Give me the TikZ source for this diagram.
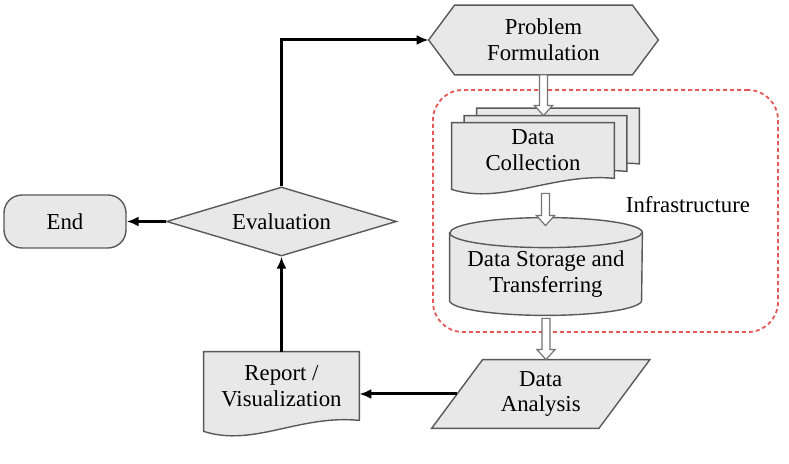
\documentclass[tikz,border=0pt]{standalone}
\usepackage{fontspec}
\setmainfont{Liberation Serif}
\newfontfamily\figfont{Liberation Serif}
\usetikzlibrary{arrows.meta,shapes.geometric,calc}
\definecolor{shapefill}{gray}{0.91}
\definecolor{shapeline}{gray}{0.35}
\definecolor{arrowline}{gray}{0.45}
\definecolor{infrared}{RGB}{228,88,88}
\pgfdeclarelayer{background}
\pgfsetlayers{background,main}

\begin{document}
\begin{tikzpicture}[x=0.5pt,y=-0.5pt,
	font=\figfont\fontsize{11.4}{13}\selectfont,
	txt/.style={align=center, inner sep=0pt},
	shapepen/.style={draw=shapeline, fill=shapefill, line width=0.7pt},
	terminal/.style={shapepen, rounded corners=9pt, minimum width=61pt, minimum height=26.5pt},
	decision/.style={shapepen, diamond, aspect=3.3, minimum width=115pt, minimum height=34.5pt, inner sep=0pt},
	infrabox/.style={draw=infrared, dashed, dash pattern=on 2pt off 1.5pt, line width=0.9pt, rounded corners=15pt},
	flow/.style={line width=1.5pt, -{Latex[length=6pt,width=5pt]}},
	hollow/.style={draw=arrowline, fill=white, line width=0.6pt, to path={
		($(\tikztostart)+(-2pt,0)$) -- ($(\tikztotarget)+(-2pt,5pt)$) -- ($(\tikztotarget)+(-4.5pt,5pt)$) -- (\tikztotarget)
		-- ($(\tikztotarget)+(4.5pt,5pt)$) -- ($(\tikztotarget)+(2pt,5pt)$) -- ($(\tikztostart)+(2pt,0)$) -- cycle}}]
	\useasboundingbox (0,0) rectangle (789,464);

	% nodes
	\node[txt, minimum width=114.5pt, minimum height=34.5pt] (pf) at (543.5,40) {Problem\\Formulation};
	\node[infrabox, minimum width=172.5pt, minimum height=121pt] (infra) at (605.5,211) {};
	\node[txt, minimum width=81pt, minimum height=27.5pt] (dc3) at (558,136) {};
	\node[txt, minimum width=81pt, minimum height=27.5pt] (dc2) at (545.5,143.5) {};
	\node[txt, minimum width=81pt, minimum height=27.5pt] (dc) at (533,150.5) {Data\\Collection};
	\node (inflabel) at (688,205) {Infrastructure};
	\node[txt, minimum width=96pt, minimum height=26pt] (ds) at (546,274) {Data Storage and\\Transferring};
	\node[txt, minimum width=83.25pt, minimum height=34pt] (da) at (540.75,394) {Data\\Analysis};
	\node[txt, minimum width=77.5pt, minimum height=34pt] (rpt) at (281.5,386) {Report /\\Visualization};
	\node[decision] (ev) at (281.5,221.5) {Evaluation};
	\node[terminal] (end) at (65,221.5) {End};

	\coordinate (dcout) at ([yshift=-11pt]dc2.south);
	\coordinate (dsin) at ([yshift=11pt]ds.north);
	\coordinate (dsout) at ([yshift=-9pt]ds.south);

	% outlines
	\begin{pgfonlayer}{background}
		\filldraw[shapepen] ([xshift=13pt]pf.north west) -- ([xshift=-13pt]pf.north east) -- (pf.east)
			-- ([xshift=-13pt]pf.south east) -- ([xshift=13pt]pf.south west) -- (pf.west) -- cycle;
		\foreach \n in {dc3,dc2,dc,rpt}
			\filldraw[shapepen] (\n.south east) -- (\n.north east) -- (\n.north west) -- ([yshift=-5.5pt]\n.south west)
				.. controls +(25pt,-8pt) and +(-30pt,3pt) .. (\n.south east) -- cycle;
		\filldraw[shapepen] ([yshift=7.5pt]ds.north west) -- (ds.south west)
			arc[start angle=180, end angle=360, x radius=48pt, y radius=7.5pt]
			-- ([yshift=7.5pt]ds.north east)
			arc[start angle=0, end angle=180, x radius=48pt, y radius=7.5pt] -- cycle;
		\draw[shapepen, fill=none] ([yshift=7.5pt]ds.north west) arc[start angle=180, end angle=360, x radius=48pt, y radius=7.5pt];
		\filldraw[shapepen] ([xshift=12.75pt]da.north west) -- ([xshift=12.75pt]da.north east)
			-- ([xshift=-12.75pt]da.south east) -- ([xshift=-12.75pt]da.south west) -- cycle;
	\end{pgfonlayer}

	% connectors
	\draw[hollow] (pf.south) to (pf.south |- dc2.north);
	\draw[hollow] (dcout) to (dcout |- dsin);
	\draw[hollow] (dsout) to (dsout |- da.north);
	\draw[flow] (ev.north) |- (pf.west);
	\draw[flow] (ev.west) -- (end.east);
	\draw[flow] (rpt.north) -- (ev.south);
	\draw[flow] (da.west) -- (rpt.east |- da.west);
\end{tikzpicture}
\end{document}
